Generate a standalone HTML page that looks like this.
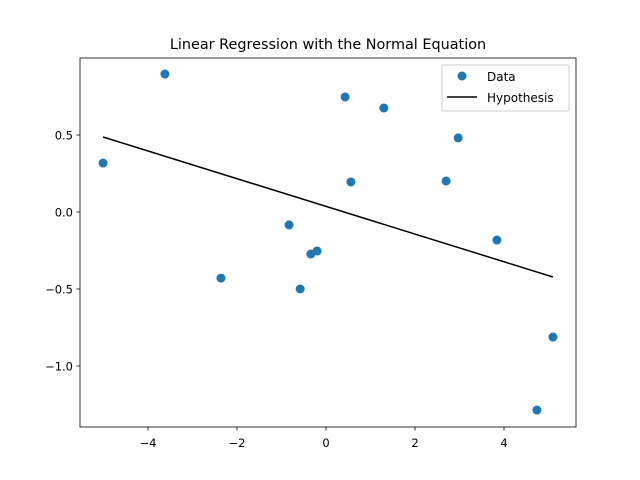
<!DOCTYPE html>
<html><head><meta charset="utf-8"><style>
body{margin:0;background:#fff}
svg{display:block;font-family:"DejaVu Sans","Liberation Sans",sans-serif}
</style></head><body>
<svg width="640" height="480">
<rect width="640" height="480" fill="#fff"/>
<text x="328" y="49" font-size="14.4" text-anchor="middle">Linear Regression with the Normal Equation</text>
<g id="plot"></g>
<rect x="80" y="58" width="496" height="369" fill="none" stroke="#000" stroke-width="0.8"/>
<g>
<rect x="442" y="65" width="127" height="46" rx="2" fill="#fff" stroke="#ccc"/>
<circle cx="462" cy="76" r="4.5" fill="#1f77b4"/>
<text x="487" y="81" font-size="12">Data</text>
<line x1="447" y1="97" x2="477" y2="97" stroke="#000" stroke-width="1.5"/>
<text x="487" y="102" font-size="12">Hypothesis</text>
</g>
</svg>
<script>
const xs=[-5.01,-3.62,-2.36,-0.83,-0.34,-0.20,-0.58,0.43,0.56,1.30,2.70,2.97,3.84,4.74,5.10];
const ys=[0.318,0.896,-0.429,-0.084,-0.273,-0.253,-0.5,0.747,0.195,0.675,0.201,0.481,-0.182,-1.286,-0.812];
const lineX=[-5.01,5.10];
const lineY=[0.487,-0.422];
const xTicks=[-4,-2,0,2,4];
const xTickLabels=["\u22124","\u22122","0","2","4"];
const yTicks=[0.5,0,-0.5,-1];
const yTickLabels=["0.5","0.0","\u22120.5","\u22121.0"];
const X=v=>326+v*44.5, Y=v=>212-v*154;
const NS="http://www.w3.org/2000/svg";
const g=document.getElementById('plot');
function mk(t,a){const e=document.createElementNS(NS,t);for(const k in a)e.setAttribute(k,a[k]);g.appendChild(e);return e;}
xTicks.forEach((t,i)=>{
 const l=mk('line',{x1:X(t),x2:X(t),y1:427,y2:430.5,stroke:'#000','stroke-width':0.8});
 
 
 const tx=mk('text',{x:X(t),y:447,'font-size':11.5,'text-anchor':'middle'});tx.textContent=xTickLabels[i];
 
 
});
yTicks.forEach((t,i)=>{
 const l=mk('line',{x1:76.5,x2:80,y1:Y(t),y2:Y(t),stroke:'#000','stroke-width':0.8});
 
 
 const tx=mk('text',{x:73,y:Y(t)+4.5,'font-size':11.5,'text-anchor':'end'});tx.textContent=yTickLabels[i];
 
 
});
xs.forEach((x,i)=>{
 const c=mk('circle',{cx:X(x),cy:Y(ys[i]),r:4.5,fill:'#1f77b4'});
 
 
});
const hl=mk('line',{x1:X(lineX[0]),y1:Y(lineY[0]),x2:X(lineX[1]),y2:Y(lineY[1]),stroke:'#000','stroke-width':1.5});


</script>
</body></html>
